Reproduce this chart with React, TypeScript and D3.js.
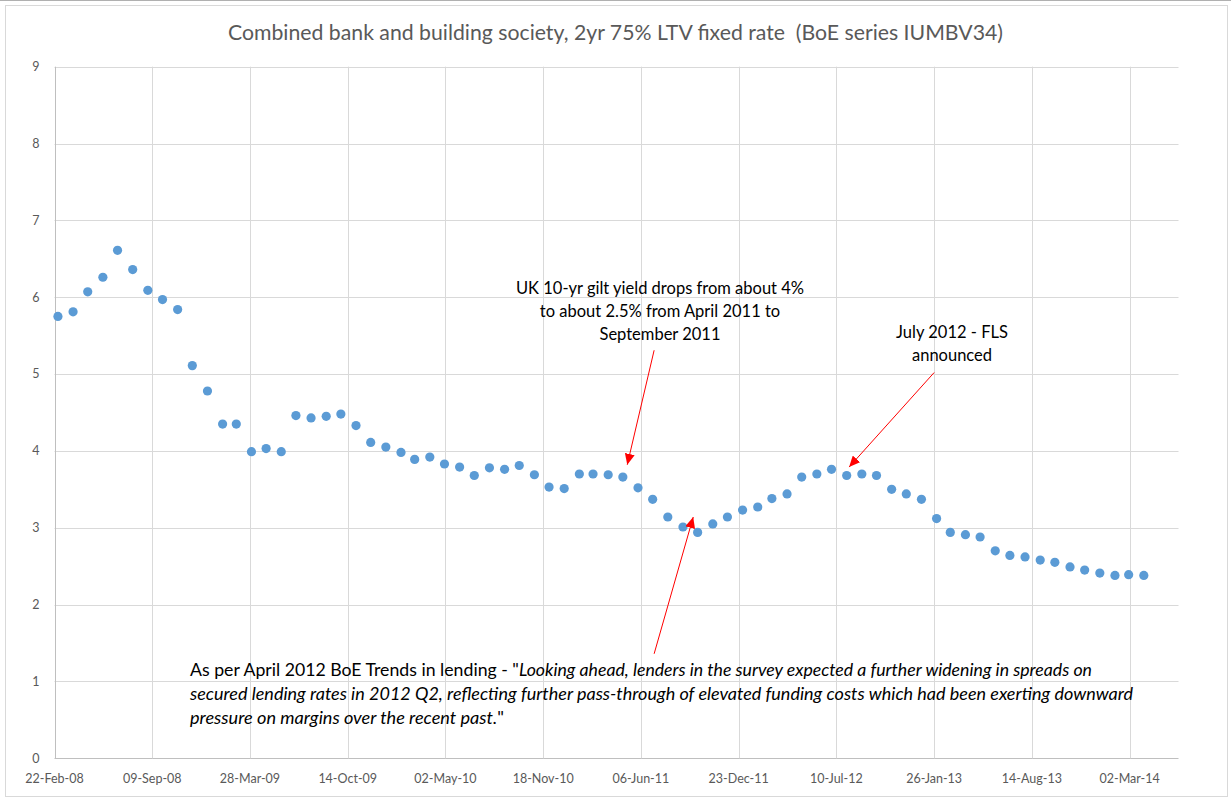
import React from 'react';
import * as d3 from 'd3';

// ---- Data ----
const MONTHS: string[] = [
  '2008-02','2008-03','2008-04','2008-05','2008-06','2008-07','2008-08','2008-09','2008-10','2008-11','2008-12',
  '2009-01','2009-02','2009-03','2009-04','2009-05','2009-06','2009-07','2009-08','2009-09','2009-10','2009-11','2009-12',
  '2010-01','2010-02','2010-03','2010-04','2010-05','2010-06','2010-07','2010-08','2010-09','2010-10','2010-11','2010-12',
  '2011-01','2011-02','2011-03','2011-04','2011-05','2011-06','2011-07','2011-08','2011-09','2011-10','2011-11','2011-12',
  '2012-01','2012-02','2012-03','2012-04','2012-05','2012-06','2012-07','2012-08','2012-09','2012-10','2012-11','2012-12',
  '2013-01','2013-02','2013-03','2013-04','2013-05','2013-06','2013-07','2013-08','2013-09','2013-10','2013-11','2013-12',
  '2014-01','2014-02','2014-03',
];

const RATES: number[] = [
  5.75, 5.81, 6.07, 6.26, 6.61, 6.36, 6.09, 5.97, 5.84, 5.11,
  4.78, 4.35, 4.35, 3.99, 4.03, 3.99, 4.46, 4.43, 4.45, 4.48,
  4.33, 4.11, 4.05, 3.98, 3.89, 3.92, 3.83, 3.79, 3.68, 3.78,
  3.76, 3.81, 3.69, 3.53, 3.51, 3.70, 3.70, 3.69, 3.66, 3.52,
  3.37, 3.14, 3.01, 2.94, 3.05, 3.14, 3.23, 3.27, 3.38, 3.44,
  3.66, 3.70, 3.76, 3.68, 3.70, 3.68, 3.50, 3.44, 3.37, 3.12,
  2.94, 2.91, 2.88, 2.70, 2.64, 2.62, 2.58, 2.55, 2.49, 2.45,
  2.41, 2.38, 2.39, 2.38,
];

const Y_TICKS: number[] = [0, 1, 2, 3, 4, 5, 6, 7, 8, 9];

const X_TICK_LABELS: string[] = [
  '22-Feb-08', '09-Sep-08', '28-Mar-09', '14-Oct-09', '02-May-10', '18-Nov-10',
  '06-Jun-11', '23-Dec-11', '10-Jul-12', '26-Jan-13', '14-Aug-13', '02-Mar-14',
];

const X_DOMAIN_START = '22-Feb-08';
const X_DOMAIN_DAYS = 2300;

const TITLE = 'Combined bank and building society, 2yr 75% LTV fixed rate  (BoE series IUMBV34)';

// annotation arrows in data space: [fromDate, fromValue, toDate, toValue]
const ARROWS: [string, number, string, number][] = [
  ['03-Jul-11', 5.31, '09-May-11', 3.82],
  ['26-Jan-13', 5.02, '05-Aug-12', 3.79],
  ['03-Jul-11', 1.36, '21-Sep-11', 3.14],
];

const GILT_NOTE = ['UK 10-yr gilt yield drops from about 4%', 'to about 2.5% from April 2011 to', 'September 2011'];
const FLS_NOTE = ['July 2012 - FLS', 'announced'];

// ---- Layout ----
const W = 1231;
const H = 799;
const PLOT = { left: 54.5, right: 1178.5, top: 66.7, bottom: 758.3 };
const FONT = 'Lato, "Open Sans", "DejaVu Sans", sans-serif';
const NOTE_SIZE = 16.5;

const parseTick = d3.utcParse('%d-%b-%y');
const parseMonth = d3.utcParse('%Y-%m');

export default function App() {
  const start = parseTick(X_DOMAIN_START) as Date;
  const x = d3
    .scaleUtc()
    .domain([start, d3.utcDay.offset(start, X_DOMAIN_DAYS)])
    .range([PLOT.left, PLOT.right]);
  const y = d3.scaleLinear().domain([0, 9]).range([PLOT.bottom, PLOT.top]);

  const points = MONTHS.map((m, i) => {
    const first = parseMonth(m) as Date;
    const monthEnd = d3.utcDay.offset(d3.utcMonth.offset(first, 1), -1);
    return { date: monthEnd, value: RATES[i] };
  });

  const xTicks = X_TICK_LABELS.map((l) => ({ label: l, date: parseTick(l) as Date }));

  return (
    <svg
      width={W}
      height={H}
      style={{ position: 'absolute', left: 0, top: 0, background: '#fff' }}
      fontFamily={FONT}
    >
      <defs>
        <marker
          id="arrowhead"
          markerUnits="userSpaceOnUse"
          markerWidth={12}
          markerHeight={10}
          refX={11}
          refY={5}
          orient="auto"
        >
          <path d="M0,0 L11,5 L0,10 Z" fill="#ff0000" />
        </marker>
      </defs>
      <rect x={0} y={0} width={W} height={H} fill="#fff" />
      <line x1={0} x2={W} y1={0.5} y2={0.5} stroke="#b0b0b0" />
      <rect x={5.5} y={5.5} width={1222} height={791} fill="none" stroke="#d9d9d9" />

      <text
        x={615.5}
        y={39.5}
        textAnchor="middle"
        fontSize={20.5}
        fill="#595959"
        style={{ whiteSpace: 'pre' }}
        textLength={775}
        lengthAdjust="spacingAndGlyphs"
      >
        {TITLE}
      </text>

      {/* horizontal gridlines */}
      {Y_TICKS.map((t) => (
        <line
          key={'h' + t}
          x1={PLOT.left}
          x2={PLOT.right}
          y1={Math.round(y(t)) + 0.5}
          y2={Math.round(y(t)) + 0.5}
          stroke={t === 0 ? '#bfbfbf' : '#d9d9d9'}
        />
      ))}
      {/* vertical gridlines */}
      {xTicks.map((t, i) => (
        <line
          key={'v' + i}
          x1={Math.round(x(t.date)) + 0.5}
          x2={Math.round(x(t.date)) + 0.5}
          y1={PLOT.top}
          y2={PLOT.bottom}
          stroke={i === 0 ? '#bfbfbf' : '#d9d9d9'}
        />
      ))}

      {/* y labels */}
      {Y_TICKS.map((t) => (
        <text
          key={'yl' + t}
          x={39.5}
          y={y(t)}
          dy="0.35em"
          textAnchor="end"
          fontSize={12.5}
          fill="#595959"
        >
          {t}
        </text>
      ))}
      {/* x labels */}
      {xTicks.map((t, i) => (
        <text
          key={'xl' + i}
          x={x(t.date)}
          y={782.5}
          textAnchor="middle"
          fontSize={12.5}
          fill="#595959"
        >
          {t.label}
        </text>
      ))}

      {/* points */}
      {points.map((p, i) => (
        <circle key={'p' + i} cx={x(p.date)} cy={y(p.value)} r={4.6} fill="#5b9bd5" />
      ))}

      {/* arrows */}
      {ARROWS.map((a, i) => (
        <line
          key={'a' + i}
          x1={x(parseTick(a[0]) as Date)}
          y1={y(a[1])}
          x2={x(parseTick(a[2]) as Date)}
          y2={y(a[3])}
          stroke="#ff0000"
          strokeWidth={1}
          markerEnd="url(#arrowhead)"
        />
      ))}

      {/* annotations */}
      {GILT_NOTE.map((l, i) => (
        <text key={'g' + i} x={660} y={294 + i * 23} textAnchor="middle" fontSize={NOTE_SIZE} fill="#000">
          {l}
        </text>
      ))}
      {FLS_NOTE.map((l, i) => (
        <text key={'f' + i} x={952} y={337.5 + i * 23} textAnchor="middle" fontSize={NOTE_SIZE} fill="#000">
          {l}
        </text>
      ))}

      <text x={190} y={676} fontSize={NOTE_SIZE} fill="#000" textLength={902} lengthAdjust="spacingAndGlyphs">
        <tspan>As per April 2012 BoE Trends in lending - "</tspan>
        <tspan fontStyle="italic">
          Looking ahead, lenders in the survey expected a further widening in spreads on
        </tspan>
      </text>
      <text
        x={190}
        y={700}
        fontSize={NOTE_SIZE}
        fill="#000"
        fontStyle="italic"
        textLength={943}
        lengthAdjust="spacingAndGlyphs"
      >
        secured lending rates in 2012 Q2, reflecting further pass-through of elevated funding costs which had been exerting downward
      </text>
      <text x={190} y={724} fontSize={NOTE_SIZE} fill="#000" textLength={314} lengthAdjust="spacingAndGlyphs">
        <tspan fontStyle="italic">pressure on margins over the recent past.</tspan>
        <tspan>"</tspan>
      </text>
    </svg>
  );
}
